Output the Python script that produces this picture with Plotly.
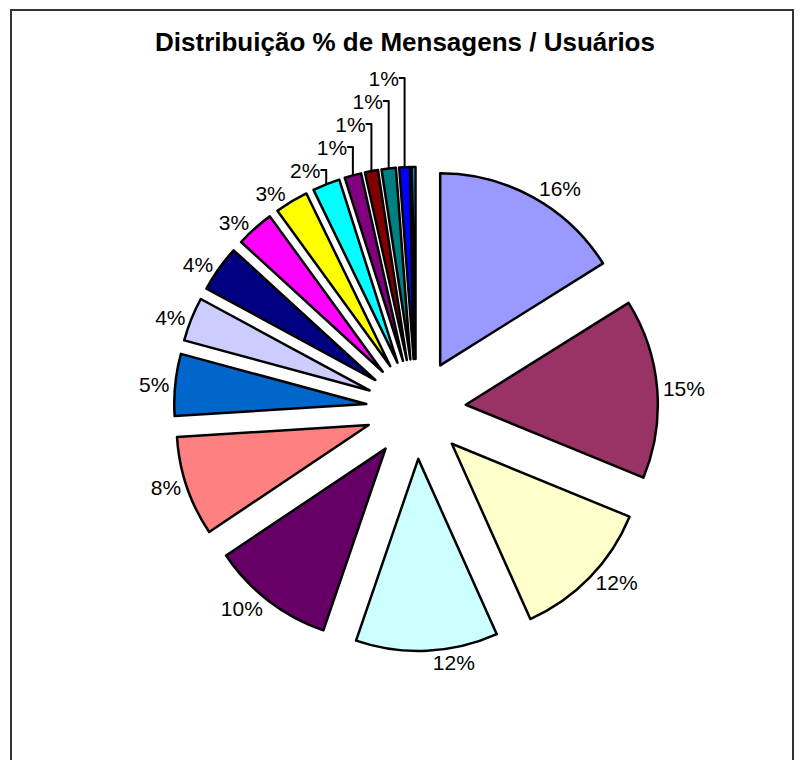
import plotly.graph_objects as go

# Data (percent share per user, clockwise from 12 o'clock)
users = ["U1", "U2", "U3", "U4", "U5", "U6", "U7", "U8", "U9",
         "U10", "U11", "U12", "U13", "U14", "U15", "U16", "U17"]
values = [16.1, 15.1, 12.1, 11.95, 10.35, 8.4, 5.2, 3.7, 3.9,
          3.2, 2.8, 2.3, 1.4, 1.1, 1.2, 0.9, 0.3]
labels_text = ["16%", "15%", "12%", "12%", "10%", "8%", "5%", "4%", "4%",
               "3%", "3%", "2%", "1%", "1%", "1%", "1%", ""]
colors = ["#9999FF", "#993366", "#FFFFCC", "#CCFFFF", "#660066", "#FF8080",
          "#0066CC", "#CCCCFF", "#000080", "#FF00FF", "#FFFF00", "#00FFFF",
          "#800080", "#800000", "#008080", "#0000FF", "#00CCFF"]
title_text = "Distribuição % de Mensagens / Usuários"

W, H, OFF = 804, 760, 8  # figure size and page offset of the figure


def fx(px):
    return (px - OFF) / W


def fy(py):
    return 1 - (py - OFF) / H


cx, cy, R = 416, 409, 242  # pie box center and half-size (page px)

fig = go.Figure(go.Pie(
    labels=users,
    values=values,
    text=labels_text,
    texttemplate="%{text}",
    textinfo="text",
    textposition="outside",
    sort=False,
    direction="clockwise",
    pull=0.26,
    automargin=False,
    marker=dict(colors=colors, line=dict(color="black", width=2.5)),
    textfont=dict(family="Arial", size=21, color="black"),
    showlegend=False,
    domain=dict(x=[fx(cx - R), fx(cx + R)],
                y=[fy(cy + R), fy(cy - R)]),
))

fig.update_layout(
    width=W, height=H, autosize=False,
    margin=dict(l=0, r=0, t=0, b=0, pad=0, autoexpand=False),
    title=dict(text="<b>" + title_text + "</b>", automargin=False,
               x=(405 - OFF) / W, xanchor="center", xref="container",
               y=1 - (42 - OFF) / H, yanchor="middle", yref="container",
               font=dict(family="Arial", size=26, color="black")),
    shapes=[dict(type="rect", xref="paper", yref="paper",
                 x0=fx(11), x1=fx(793), y0=0, y1=fy(10),
                 line=dict(color="#333333", width=2))],
)

fig.write_html("out.html", config={"responsive": False})
